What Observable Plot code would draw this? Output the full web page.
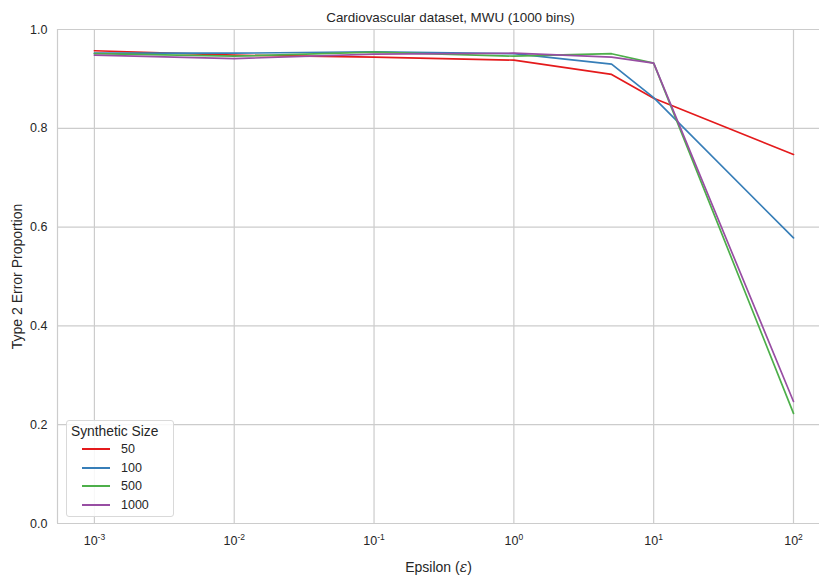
<!DOCTYPE html>
<html>
<head>
<meta charset="utf-8">
<script src="https://cdn.jsdelivr.net/npm/d3@7"></script>
<script src="https://cdn.jsdelivr.net/npm/@observablehq/plot@0.6"></script>
<style>
  body { margin: 0; background: #fff; }
  #chart { position: relative; width: 819px; height: 578px; font-family: "Liberation Sans", Arial, sans-serif; color: #262626; }
  #chart svg { display: block; }
  .legend {
    position: absolute; left: 66px; top: 420px; width: 108px; height: 97px;
    box-sizing: border-box; border: 1px solid #d9d9d9; border-radius: 3px;
    background: rgba(255,255,255,0.85); font-size: 12.5px;
  }
  .legend .ttl { position: absolute; left: 4px; top: 3px; font-size: 13.8px; }
  .legend .row { position: absolute; left: 15px; height: 14px; display: flex; align-items: center; }
  .legend .sw { display: inline-block; width: 28px; height: 2px; margin-right: 11px; }
</style>
</head>
<body>
<div id="chart"></div>
<script>
// Privacy budgets on the x axis
const epsilons = [0.001, 0.01, 0.1, 1, 5, 10, 100];
// Synthetic sample sizes and their colours
const sizes = ["50", "100", "500", "1000"];
const colors = ["#e41a1c", "#377eb8", "#4daf4a", "#984ea3"];
// Type 2 error proportion per synthetic size
const size50   = [0.957, 0.948, 0.944, 0.938, 0.909, 0.861, 0.747];
const size100  = [0.952, 0.952, 0.955, 0.951, 0.930, 0.862, 0.578];
const size500  = [0.951, 0.946, 0.954, 0.946, 0.951, 0.932, 0.223];
const size1000 = [0.948, 0.941, 0.950, 0.952, 0.944, 0.932, 0.247];
const yTicks = [0, 0.2, 0.4, 0.6, 0.8, 1.0];
const xTicks = [1e-3, 1e-2, 1e-1, 1, 10, 100];
const title = "Cardiovascular dataset, MWU (1000 bins)";

const seriesValues = [size50, size100, size500, size1000];
const rows = [];
sizes.forEach((s, i) => epsilons.forEach((e, j) => rows.push({size: s, eps: e, err: seriesValues[i][j]})));

const grid = "#cccccc";
const ink = "#262626";

const svg = Plot.plot({
  width: 819,
  height: 578,
  marginLeft: 57,
  marginRight: 0,
  marginTop: 29,
  marginBottom: 55,
  style: {fontFamily: "'Liberation Sans', Arial, sans-serif", fontSize: "12px", color: ink, background: "#fff"},
  x: {type: "log", domain: [Math.pow(10, -3.264), Math.pow(10, 2.186)]},
  y: {domain: [0, 1]},
  color: {domain: sizes, range: colors},
  marks: [
    Plot.gridX(xTicks, {stroke: grid, strokeOpacity: 1, strokeWidth: 1.2}),
    Plot.gridY(yTicks, {stroke: grid, strokeOpacity: 1, strokeWidth: 1.2}),
    Plot.ruleX([Math.pow(10, -3.264)], {stroke: grid, strokeWidth: 1.2}),
    Plot.ruleY([0], {stroke: grid, strokeWidth: 1.2}),
    Plot.axisX(xTicks, {tickSize: 0, tickPadding: 13, fontSize: 12.5, tickFormat: d => "10^" + Math.round(Math.log10(d)),
      label: "Epsilon (ε)", labelAnchor: "center", labelOffset: 48, labelArrow: "none"}),
    Plot.axisY(yTicks, {tickSize: 0, tickPadding: 10, fontSize: 12.5, tickFormat: d3.format(".1f"),
      label: "Type 2 Error Proportion", labelAnchor: "center", labelOffset: 45, labelArrow: "none"}),
    Plot.line(rows, {x: "eps", y: "err", z: "size", stroke: "size", strokeWidth: 1.7}),
    Plot.text([title], {frameAnchor: "top", dx: 12, dy: -17, fontSize: 13.4, fill: ink})
  ]
});

// Render 10^n tick labels with raised exponents and the italic epsilon
d3.select(svg).selectAll("text").each(function() {
  const t = this.textContent;
  const m = /^10\^(-?\d+)$/.exec(t);
  const sel = d3.select(this);
  if (m) {
    sel.text("");
    sel.append("tspan").text("10");
    sel.append("tspan").attr("dy", "-0.6em").attr("font-size", "8.5px").text(m[1]);
  } else if (t === "Epsilon (ε)") {
    sel.text("");
    sel.append("tspan").text("Epsilon (");
    sel.append("tspan").attr("font-style", "italic").attr("font-family", "'DejaVu Serif', serif").text("ε");
    sel.append("tspan").text(")");
  }
});
d3.select(svg).selectAll("[aria-label='x-axis label'] text, [aria-label='y-axis label'] text").attr("font-size", 14);

const chart = document.getElementById("chart");
chart.appendChild(svg);

// Legend box in the lower left corner
const legend = document.createElement("div");
legend.className = "legend";
legend.innerHTML = `<div class="ttl">Synthetic Size</div>` +
  sizes.map((s, i) => `<div class="row" style="top:${21 + i * 18.7}px"><span class="sw" style="background:${colors[i]}"></span><span>${s}</span></div>`).join("");
chart.appendChild(legend);
</script>
</body>
</html>
